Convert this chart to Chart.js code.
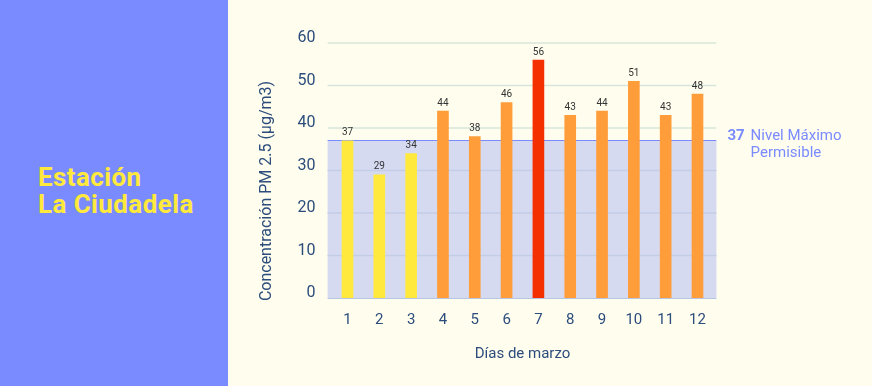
<!DOCTYPE html>
<html>
<head>
<meta charset="utf-8">
<script src="https://cdn.jsdelivr.net/npm/chart.js@4.4.0/dist/chart.umd.min.js"></script>
<style>
  html, body { margin: 0; padding: 0; background: #fffdee; }
  #wrap { position: relative; width: 872px; height: 386px; overflow: hidden; }
  #side {
    position: absolute; left: 0; top: 0; width: 228px; height: 386px;
    background: #7a8bff;
  }
  #side h1 {
    position: absolute; left: 38px; top: 164px; margin: 0;
    font-family: Roboto, sans-serif; font-weight: 700; font-size: 26px;
    line-height: 27px; color: #ffe93d; letter-spacing: 0.4px;
  }
  #box { position: absolute; left: 228px; top: 0; width: 644px; height: 386px; }
</style>
</head>
<body>
<div id="wrap">
  <div id="side"><h1>Estación<br>La Ciudadela</h1></div>
  <div id="box"><canvas id="pmChart" width="644" height="386"></canvas></div>
</div>
<script>
// -------- DATA ---------------
const dias = ["1", "2", "3", "4", "5", "6", "7", "8", "9", "10", "11", "12"];
const pm25 = [37, 29, 34, 44, 38, 46, 56, 43, 44, 51, 43, 48];
const nivelMaximo = 37;

const yellow = "#ffe93d";
const orange = "#ff9d3b";
const red = "#f53000";
const navy = "#2c4d7c";
const lavender = "#7a8bff";
const fontFam = "Roboto, sans-serif";

function barColor(v) {
    if (v >= 55) return red;
    if (v > nivelMaximo) return orange;
    return yellow;
}

// -------- BAND, GRID, LIMIT LINE, LABELS ---------------
const extL = 4, extR = 3;

const limitPlugin = {
    id: "limitPlugin",
    beforeDatasetsDraw(chart) {
        const { ctx, chartArea, scales } = chart;
        const x0 = chartArea.left - extL, x1 = chartArea.right + extR;
        const yTop = scales.y.getPixelForValue(nivelMaximo);
        const yBot = scales.y.getPixelForValue(0);
        ctx.save();
        ctx.fillStyle = "#d6daf1";
        ctx.fillRect(x0, yTop, x1 - x0, yBot - yTop);
        // horizontal grid
        ctx.lineWidth = 1.5;
        scales.y.ticks.forEach(t => {
            if (t.value === 0) return;
            const y = scales.y.getPixelForValue(t.value);
            ctx.strokeStyle = t.value < nivelMaximo ? "#c3cde6" : "#d7e6da";
            ctx.beginPath();
            ctx.moveTo(x0, y);
            ctx.lineTo(x1, y);
            ctx.stroke();
        });
        // x axis line
        ctx.strokeStyle = "#b5c6e3";
        ctx.lineWidth = 1;
        ctx.beginPath();
        ctx.moveTo(x0, Math.round(yBot) + 0.5);
        ctx.lineTo(x1, Math.round(yBot) + 0.5);
        ctx.stroke();
        // limit line (behind bars)
        const yl = Math.round(yTop) - 0.5;
        ctx.strokeStyle = lavender;
        ctx.beginPath();
        ctx.moveTo(x0, yl);
        ctx.lineTo(x1, yl);
        ctx.stroke();
        ctx.restore();
    },
    afterDatasetsDraw(chart) {
        const { ctx, chartArea, scales } = chart;
        const x1 = chartArea.right + extR;
        const y = Math.round(scales.y.getPixelForValue(nivelMaximo)) - 0.5;
        ctx.save();

        // value labels above bars
        const meta = chart.getDatasetMeta(0);
        ctx.fillStyle = "#333333";
        ctx.font = "10px " + fontFam;
        ctx.textAlign = "center";
        ctx.textBaseline = "bottom";
        meta.data.forEach((bar, i) => {
            ctx.fillText(pm25[i], bar.x, bar.y - 3);
        });

        // side note
        const nx = x1 + 11;
        ctx.textAlign = "left";
        ctx.textBaseline = "middle";
        ctx.fillStyle = lavender;
        ctx.font = "bold 15px " + fontFam;
        ctx.fillText(String(nivelMaximo), nx, y - 4);
        const w = ctx.measureText(String(nivelMaximo)).width;
        ctx.font = "15px " + fontFam;
        ctx.fillText("Nivel Máximo", nx + w + 6, y - 4);
        ctx.fillText("Permisible", nx + w + 6, y + 13);

        // y axis title
        ctx.save();
        ctx.translate(39, 191);
        ctx.rotate(-Math.PI / 2);
        ctx.textAlign = "center";
        ctx.fillStyle = navy;
        ctx.font = "16px " + fontFam;
        ctx.fillText("Concentración PM 2.5 (µg/m3)", 0, 0);
        ctx.restore();
        ctx.restore();
    }
};

new Chart(document.getElementById("pmChart"), {
    type: "bar",
    data: {
        labels: dias,
        datasets: [{
            data: pm25,
            backgroundColor: pm25.map(barColor),
            borderWidth: 0,
            barThickness: 11
        }]
    },
    options: {
        responsive: false,
        animation: false,
        layout: { padding: { left: 0, right: 158.6, top: 43, bottom: 19 } },
        plugins: {
            legend: { display: false },
            tooltip: { enabled: false }
        },
        scales: {
            x: {
                grid: { display: false },
                border: { display: false },
                ticks: { color: navy, font: { family: fontFam, size: 15 }, padding: 5 },
                title: {
                    display: true, text: "Días de marzo", color: navy,
                    font: { family: fontFam, size: 15 }, padding: { top: 14 }
                },
                afterFit(scale) { scale.height = 69; }
            },
            y: {
                min: 0, max: 60,
                ticks: {
                    stepSize: 10, color: navy, padding: 8, labelOffset: -5,
                    font: { family: fontFam, size: 16 }
                },
                grid: { display: false },
                border: { display: false },
                afterFit(scale) { scale.width = 103.6; }
            }
        }
    },
    plugins: [limitPlugin]
});
</script>
</body>
</html>
